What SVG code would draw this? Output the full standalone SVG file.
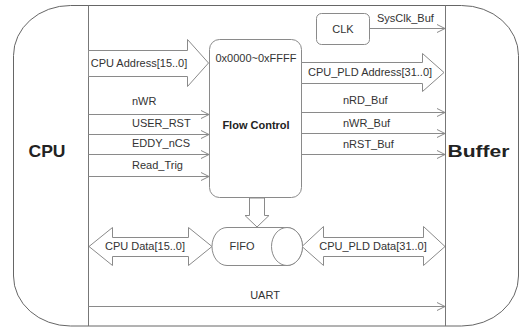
<svg xmlns="http://www.w3.org/2000/svg" width="520" height="329" viewBox="0 0 520 329">
<defs>
<style>
.t{font-family:"Liberation Sans",Arial,sans-serif;font-size:11px;fill:#333}
.b{font-family:"Liberation Sans",Arial,sans-serif;font-weight:bold;fill:#222}
.ln{stroke:#8a8a8a;stroke-width:1;fill:none}
.sh{stroke:#8a8a8a;stroke-width:1;fill:#fff}
</style>
<marker id="ah" markerWidth="10" markerHeight="10" refX="9" refY="5" orient="auto" markerUnits="userSpaceOnUse">
<path d="M1,1 L9,5 L1,9" fill="none" stroke="#8a8a8a" stroke-width="1"/>
</marker>
</defs>
<rect width="520" height="329" fill="#fff"/>
<g id="outer">
<rect x="13.5" y="5.5" width="505" height="320.5" rx="57" ry="50" fill="none" stroke="#666" stroke-width="1"/>
</g>
<g id="cpu">
<line x1="88.5" y1="5.5" x2="88.5" y2="326" stroke="#777"/>
<text class="b" x="47" y="157" font-size="17" text-anchor="middle" textLength="37" lengthAdjust="spacingAndGlyphs">CPU</text>
</g>
<g id="buffer">
<line x1="445.5" y1="5.5" x2="445.5" y2="326" stroke="#777"/>
<text class="b" x="478.5" y="157" font-size="17" text-anchor="middle" textLength="62" lengthAdjust="spacingAndGlyphs">Buffer</text>
</g>
<g id="clk">
<rect class="sh" x="316.5" y="13.5" width="53" height="31" rx="5"/>
<text class="t" x="343" y="33" text-anchor="middle">CLK</text>
</g>
<g id="flow-control">
<rect class="sh" x="209.5" y="39.5" width="92" height="158" rx="10"/>
<text class="t" x="256" y="62" text-anchor="middle">0x0000~0xFFFF</text>
<text class="b" x="256" y="129" font-size="11" text-anchor="middle">Flow Control</text>
</g>
<g id="fifo">
<path class="sh" d="M227,227.5 L287,227.5 A15.5,19 0 0 1 287,265.5 L227,265.5 A15,19 0 0 1 227,227.5 Z"/>
<ellipse class="sh" cx="287" cy="246.5" rx="15.5" ry="19"/>
<text class="t" x="242" y="250" text-anchor="middle">FIFO</text>
</g>
<g id="connectors">
<polygon class="sh" points="88.5,50.5 187.5,50.5 187.5,39.5 208.5,63 187.5,86.5 187.5,76.5 88.5,76.5"/>
<text class="t" x="139" y="67" text-anchor="middle">CPU Address[15..0]</text>
<polygon class="sh" points="301.5,62.5 422.5,62.5 422.5,53.5 444,72.5 422.5,91.5 422.5,83.5 301.5,83.5"/>
<text class="t" x="370" y="76" text-anchor="middle">CPU_PLD Address[31..0]</text>
<line class="ln" x1="370" y1="28.5" x2="445" y2="28.5" marker-end="url(#ah)"/>
<text class="t" x="377" y="22">SysClk_Buf</text>
<line class="ln" x1="88.5" y1="114.5" x2="209" y2="114.5" marker-end="url(#ah)"/>
<text class="t" x="132" y="105">nWR</text>
<line class="ln" x1="88.5" y1="134.5" x2="209" y2="134.5" marker-end="url(#ah)"/>
<text class="t" x="132" y="127">USER_RST</text>
<line class="ln" x1="88.5" y1="154.5" x2="209" y2="154.5" marker-end="url(#ah)"/>
<text class="t" x="132" y="147">EDDY_nCS</text>
<line class="ln" x1="88.5" y1="176.5" x2="209" y2="176.5" marker-end="url(#ah)"/>
<text class="t" x="132" y="169">Read_Trig</text>
<line class="ln" x1="301.5" y1="112.5" x2="445" y2="112.5" marker-end="url(#ah)"/>
<text class="t" x="343" y="104">nRD_Buf</text>
<line class="ln" x1="301.5" y1="133.5" x2="445" y2="133.5" marker-end="url(#ah)"/>
<text class="t" x="343" y="127">nWR_Buf</text>
<line class="ln" x1="301.5" y1="154.5" x2="445" y2="154.5" marker-end="url(#ah)"/>
<text class="t" x="343" y="148">nRST_Buf</text>
<polygon class="sh" points="249.5,198 264.5,198 264.5,215.5 269,215.5 257,227 245,215.5 249.5,215.5"/>
<polygon class="sh" points="89,246.5 112.5,227.5 112.5,237.5 188.5,237.5 188.5,227.5 212,246.5 188.5,265.5 188.5,256.5 112.5,256.5 112.5,265.5"/>
<text class="t" x="145" y="250" text-anchor="middle">CPU Data[15..0]</text>
<polygon class="sh" points="302,246.5 323.5,226.5 323.5,237.5 423.5,237.5 423.5,226.5 445,246.5 423.5,265.5 423.5,256.5 323.5,256.5 323.5,265.5"/>
<text class="t" x="373" y="250" text-anchor="middle">CPU_PLD Data[31..0]</text>
<line class="ln" x1="88.5" y1="306.5" x2="445" y2="306.5" marker-end="url(#ah)"/>
<text class="t" x="265" y="299" text-anchor="middle">UART</text>
</g>
</svg>
